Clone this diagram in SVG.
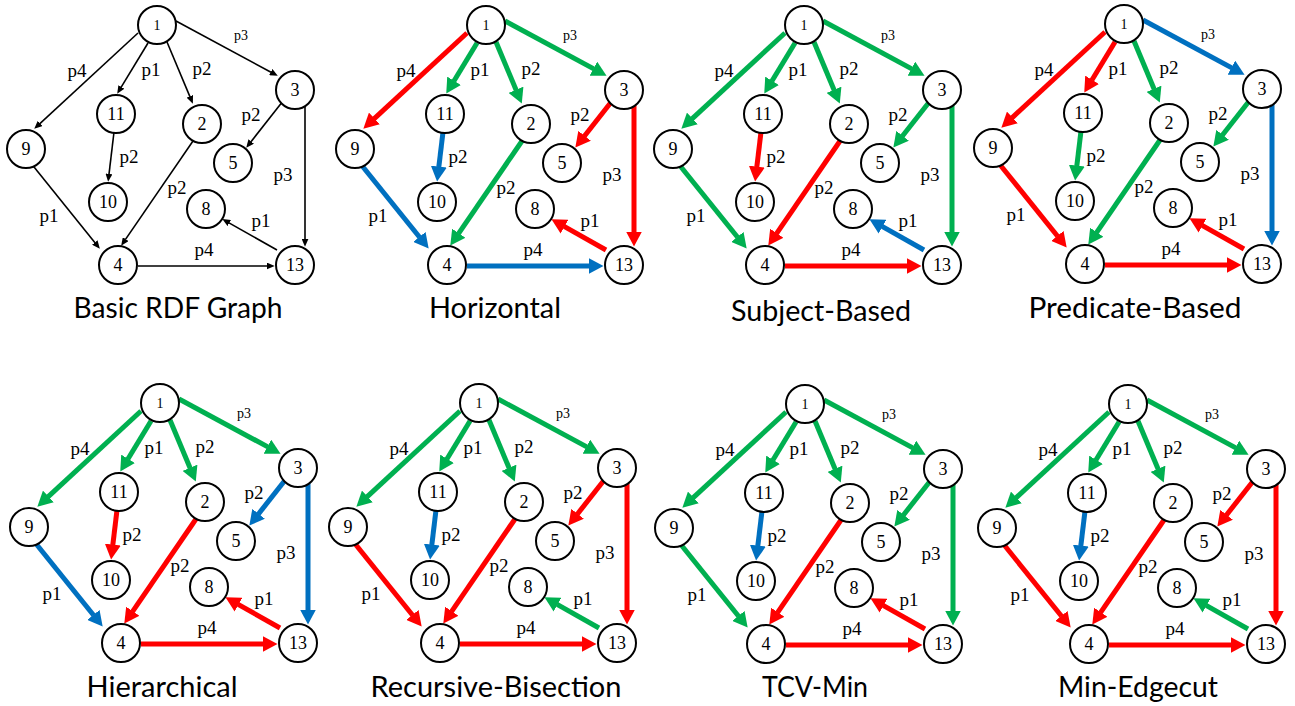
<svg xmlns="http://www.w3.org/2000/svg" width="1295" height="706" viewBox="0 0 1295 706">
<style>
.node circle{fill:#fff;stroke:#000;stroke-width:2}
.node text{font-family:"Liberation Serif","DejaVu Serif",serif;font-size:18px;text-anchor:middle;fill:#000}
.node text.s{font-size:14px}
.lbl text{font-family:"Liberation Serif","DejaVu Serif",serif;font-size:19px;text-anchor:middle;fill:#000}
.lbl text.s{font-size:14px}
.cap{font-family:Lato,"Open Sans",sans-serif;font-size:28px;text-anchor:middle;fill:#000}
.edges path{fill:none}
.k{stroke:#000;stroke-width:1.6;marker-end:url(#mk)}
.r{stroke:#ff0000;stroke-width:5;marker-end:url(#mr)}
.g{stroke:#00b050;stroke-width:5;marker-end:url(#mg)}
.b{stroke:#0070c0;stroke-width:5;marker-end:url(#mb)}
</style>
<defs>
<marker id="mk" markerUnits="userSpaceOnUse" markerWidth="8" markerHeight="7" viewBox="0 0 8 7" refX="0.3" refY="3.5" orient="auto"><path d="M0,0L8,3.5L0,7z" fill="#000"/></marker>
<marker id="mr" markerUnits="userSpaceOnUse" markerWidth="15" markerHeight="16" viewBox="0 0 15 16" refX="0.5" refY="8" orient="auto"><path d="M0,0L15,8L0,16z" fill="#ff0000"/></marker>
<marker id="mg" markerUnits="userSpaceOnUse" markerWidth="15" markerHeight="16" viewBox="0 0 15 16" refX="0.5" refY="8" orient="auto"><path d="M0,0L15,8L0,16z" fill="#00b050"/></marker>
<marker id="mb" markerUnits="userSpaceOnUse" markerWidth="15" markerHeight="16" viewBox="0 0 15 16" refX="0.5" refY="8" orient="auto"><path d="M0,0L15,8L0,16z" fill="#0070c0"/></marker>
</defs>
<rect width="1295" height="706" fill="#fff"/>

<!-- Basic RDF Graph -->
<g id="basic" transform="translate(157,25)">
<g id="basic-edges" class="edges">
<path class="k" d="M19,-4L114,47.2"/>
<path class="k" d="M-19,8L-117.1,98.6"/>
<path class="k" d="M-9,18L-35.8,62.2"/>
<path class="k" d="M10,17L32.9,71.6"/>
<path class="k" d="M126,76L94,116.7"/>
<path class="k" d="M148,78L148,214"/>
<path class="k" d="M-43,107L-48,149.1"/>
<path class="k" d="M36,116L-31.5,214.4"/>
<path class="k" d="M-127,137L-62,217.8"/>
<path class="k" d="M120,225L72,197.9"/>
<path class="k" d="M-19,241L110,241"/>
</g>
<g id="basic-labels" class="lbl">
<text class="s" x="84" y="15">p3</text><text x="-80" y="52">p4</text><text x="-6" y="51">p1</text><text x="45" y="50">p2</text>
<text x="94" y="96">p2</text><text x="-28" y="138">p2</text><text x="20" y="169">p2</text><text x="126" y="156">p3</text>
<text x="-108" y="197">p1</text><text x="104" y="202">p1</text><text x="47" y="231">p4</text>
</g>
<g id="basic-n1" class="node"><circle r="19"/><text class="s" y="5">1</text></g>
<g id="basic-n3" class="node" transform="translate(138,65)"><circle r="19"/><text y="6">3</text></g>
<g id="basic-n11" class="node" transform="translate(-41,89)"><circle r="19"/><text y="6">11</text></g>
<g id="basic-n2" class="node" transform="translate(45,99)"><circle r="19"/><text y="6">2</text></g>
<g id="basic-n9" class="node" transform="translate(-131,124)"><circle r="19"/><text y="6">9</text></g>
<g id="basic-n5" class="node" transform="translate(76,138)"><circle r="19"/><text y="6">5</text></g>
<g id="basic-n10" class="node" transform="translate(-49,177)"><circle r="19"/><text y="6">10</text></g>
<g id="basic-n8" class="node" transform="translate(49,184)"><circle r="19"/><text y="6">8</text></g>
<g id="basic-n4" class="node" transform="translate(-39,240)"><circle r="19"/><text y="6">4</text></g>
<g id="basic-n13" class="node" transform="translate(138,240)"><circle r="19"/><text y="6">13</text></g>
</g>
<text class="cap" x="178" y="318" textLength="209" lengthAdjust="spacingAndGlyphs">Basic RDF Graph</text>

<!-- Horizontal -->
<g id="horizontal" transform="translate(486,25)">
<g id="horizontal-edges" class="edges">
<path class="g" d="M19,-4L107.8,43.9"/>
<path class="r" d="M-19,8L-112,93.8"/>
<path class="g" d="M-9,18L-32.2,56.2"/>
<path class="g" d="M10,17L30.2,65.2"/>
<path class="r" d="M126,76L98.3,111.2"/>
<path class="r" d="M148,78L148,207"/>
<path class="b" d="M-43,107L-47.2,142.1"/>
<path class="g" d="M36,116L-27.5,208.6"/>
<path class="b" d="M-127,137L-66.4,212.3"/>
<path class="r" d="M120,225L78.1,201.4"/>
<path class="b" d="M-19,241L103,241"/>
</g>
<g id="horizontal-labels" class="lbl">
<text class="s" x="84" y="15">p3</text><text x="-80" y="52">p4</text><text x="-6" y="51">p1</text><text x="45" y="50">p2</text>
<text x="94" y="96">p2</text><text x="-28" y="138">p2</text><text x="20" y="169">p2</text><text x="126" y="156">p3</text>
<text x="-108" y="197">p1</text><text x="104" y="202">p1</text><text x="47" y="231">p4</text>
</g>
<g id="horizontal-n1" class="node"><circle r="19"/><text class="s" y="5">1</text></g>
<g id="horizontal-n3" class="node" transform="translate(138,65)"><circle r="19"/><text y="6">3</text></g>
<g id="horizontal-n11" class="node" transform="translate(-41,89)"><circle r="19"/><text y="6">11</text></g>
<g id="horizontal-n2" class="node" transform="translate(45,99)"><circle r="19"/><text y="6">2</text></g>
<g id="horizontal-n9" class="node" transform="translate(-131,124)"><circle r="19"/><text y="6">9</text></g>
<g id="horizontal-n5" class="node" transform="translate(76,138)"><circle r="19"/><text y="6">5</text></g>
<g id="horizontal-n10" class="node" transform="translate(-49,177)"><circle r="19"/><text y="6">10</text></g>
<g id="horizontal-n8" class="node" transform="translate(49,184)"><circle r="19"/><text y="6">8</text></g>
<g id="horizontal-n4" class="node" transform="translate(-39,240)"><circle r="19"/><text y="6">4</text></g>
<g id="horizontal-n13" class="node" transform="translate(138,240)"><circle r="19"/><text y="6">13</text></g>
</g>
<text class="cap" x="495" y="318" textLength="132" lengthAdjust="spacingAndGlyphs">Horizontal</text>

<!-- Subject-Based -->
<g id="subject" transform="translate(804,25)">
<g id="subject-edges" class="edges">
<path class="g" d="M19,-4L107.8,43.9"/>
<path class="g" d="M-19,8L-112,93.8"/>
<path class="g" d="M-9,18L-32.2,56.2"/>
<path class="g" d="M10,17L30.2,65.2"/>
<path class="g" d="M126,76L98.3,111.2"/>
<path class="g" d="M148,78L148,207"/>
<path class="r" d="M-43,107L-47.2,142.1"/>
<path class="r" d="M36,116L-27.5,208.6"/>
<path class="g" d="M-127,137L-66.4,212.3"/>
<path class="b" d="M120,225L78.1,201.4"/>
<path class="r" d="M-19,241L103,241"/>
</g>
<g id="subject-labels" class="lbl">
<text class="s" x="84" y="15">p3</text><text x="-80" y="52">p4</text><text x="-6" y="51">p1</text><text x="45" y="50">p2</text>
<text x="94" y="96">p2</text><text x="-28" y="138">p2</text><text x="20" y="169">p2</text><text x="126" y="156">p3</text>
<text x="-108" y="197">p1</text><text x="104" y="202">p1</text><text x="47" y="231">p4</text>
</g>
<g id="subject-n1" class="node"><circle r="19"/><text class="s" y="5">1</text></g>
<g id="subject-n3" class="node" transform="translate(138,65)"><circle r="19"/><text y="6">3</text></g>
<g id="subject-n11" class="node" transform="translate(-41,89)"><circle r="19"/><text y="6">11</text></g>
<g id="subject-n2" class="node" transform="translate(45,99)"><circle r="19"/><text y="6">2</text></g>
<g id="subject-n9" class="node" transform="translate(-131,124)"><circle r="19"/><text y="6">9</text></g>
<g id="subject-n5" class="node" transform="translate(76,138)"><circle r="19"/><text y="6">5</text></g>
<g id="subject-n10" class="node" transform="translate(-49,177)"><circle r="19"/><text y="6">10</text></g>
<g id="subject-n8" class="node" transform="translate(49,184)"><circle r="19"/><text y="6">8</text></g>
<g id="subject-n4" class="node" transform="translate(-39,240)"><circle r="19"/><text y="6">4</text></g>
<g id="subject-n13" class="node" transform="translate(138,240)"><circle r="19"/><text y="6">13</text></g>
</g>
<text class="cap" x="821" y="321" textLength="180" lengthAdjust="spacingAndGlyphs">Subject-Based</text>

<!-- Predicate-Based -->
<g id="predicate" transform="translate(1124,24)">
<g id="predicate-edges" class="edges">
<path class="b" d="M19,-4L107.8,43.9"/>
<path class="r" d="M-19,8L-112,93.8"/>
<path class="r" d="M-9,18L-32.2,56.2"/>
<path class="g" d="M10,17L30.2,65.2"/>
<path class="g" d="M126,76L98.3,111.2"/>
<path class="b" d="M148,78L148,207"/>
<path class="g" d="M-43,107L-47.2,142.1"/>
<path class="g" d="M36,116L-27.5,208.6"/>
<path class="r" d="M-127,137L-66.4,212.3"/>
<path class="r" d="M120,225L78.1,201.4"/>
<path class="r" d="M-19,241L103,241"/>
</g>
<g id="predicate-labels" class="lbl">
<text class="s" x="84" y="15">p3</text><text x="-80" y="52">p4</text><text x="-6" y="51">p1</text><text x="45" y="50">p2</text>
<text x="94" y="96">p2</text><text x="-28" y="138">p2</text><text x="20" y="169">p2</text><text x="126" y="156">p3</text>
<text x="-108" y="197">p1</text><text x="104" y="202">p1</text><text x="47" y="231">p4</text>
</g>
<g id="predicate-n1" class="node"><circle r="19"/><text class="s" y="5">1</text></g>
<g id="predicate-n3" class="node" transform="translate(138,65)"><circle r="19"/><text y="6">3</text></g>
<g id="predicate-n11" class="node" transform="translate(-41,89)"><circle r="19"/><text y="6">11</text></g>
<g id="predicate-n2" class="node" transform="translate(45,99)"><circle r="19"/><text y="6">2</text></g>
<g id="predicate-n9" class="node" transform="translate(-131,124)"><circle r="19"/><text y="6">9</text></g>
<g id="predicate-n5" class="node" transform="translate(76,138)"><circle r="19"/><text y="6">5</text></g>
<g id="predicate-n10" class="node" transform="translate(-49,177)"><circle r="19"/><text y="6">10</text></g>
<g id="predicate-n8" class="node" transform="translate(49,184)"><circle r="19"/><text y="6">8</text></g>
<g id="predicate-n4" class="node" transform="translate(-39,240)"><circle r="19"/><text y="6">4</text></g>
<g id="predicate-n13" class="node" transform="translate(138,240)"><circle r="19"/><text y="6">13</text></g>
</g>
<text class="cap" x="1135" y="318" textLength="213" lengthAdjust="spacingAndGlyphs">Predicate-Based</text>

<!-- Hierarchical -->
<g id="hierarchical" transform="translate(160,403)">
<g id="hierarchical-edges" class="edges">
<path class="g" d="M19,-4L107.8,43.9"/>
<path class="g" d="M-19,8L-112,93.8"/>
<path class="g" d="M-9,18L-32.2,56.2"/>
<path class="g" d="M10,17L30.2,65.2"/>
<path class="b" d="M126,76L98.3,111.2"/>
<path class="b" d="M148,78L148,207"/>
<path class="r" d="M-43,107L-47.2,142.1"/>
<path class="r" d="M36,116L-27.5,208.6"/>
<path class="b" d="M-127,137L-66.4,212.3"/>
<path class="r" d="M120,225L78.1,201.4"/>
<path class="r" d="M-19,241L103,241"/>
</g>
<g id="hierarchical-labels" class="lbl">
<text class="s" x="84" y="15">p3</text><text x="-80" y="52">p4</text><text x="-6" y="51">p1</text><text x="45" y="50">p2</text>
<text x="94" y="96">p2</text><text x="-28" y="138">p2</text><text x="20" y="169">p2</text><text x="126" y="156">p3</text>
<text x="-108" y="197">p1</text><text x="104" y="202">p1</text><text x="47" y="231">p4</text>
</g>
<g id="hierarchical-n1" class="node"><circle r="19"/><text class="s" y="5">1</text></g>
<g id="hierarchical-n3" class="node" transform="translate(138,65)"><circle r="19"/><text y="6">3</text></g>
<g id="hierarchical-n11" class="node" transform="translate(-41,89)"><circle r="19"/><text y="6">11</text></g>
<g id="hierarchical-n2" class="node" transform="translate(45,99)"><circle r="19"/><text y="6">2</text></g>
<g id="hierarchical-n9" class="node" transform="translate(-131,124)"><circle r="19"/><text y="6">9</text></g>
<g id="hierarchical-n5" class="node" transform="translate(76,138)"><circle r="19"/><text y="6">5</text></g>
<g id="hierarchical-n10" class="node" transform="translate(-49,177)"><circle r="19"/><text y="6">10</text></g>
<g id="hierarchical-n8" class="node" transform="translate(49,184)"><circle r="19"/><text y="6">8</text></g>
<g id="hierarchical-n4" class="node" transform="translate(-39,240)"><circle r="19"/><text y="6">4</text></g>
<g id="hierarchical-n13" class="node" transform="translate(138,240)"><circle r="19"/><text y="6">13</text></g>
</g>
<text class="cap" x="162" y="697" textLength="151" lengthAdjust="spacingAndGlyphs">Hierarchical</text>

<!-- Recursive-Bisection -->
<g id="bisection" transform="translate(479,403)">
<g id="bisection-edges" class="edges">
<path class="g" d="M19,-4L107.8,43.9"/>
<path class="g" d="M-19,8L-112,93.8"/>
<path class="g" d="M-9,18L-32.2,56.2"/>
<path class="g" d="M10,17L30.2,65.2"/>
<path class="r" d="M126,76L98.3,111.2"/>
<path class="r" d="M148,78L148,207"/>
<path class="b" d="M-43,107L-47.2,142.1"/>
<path class="r" d="M36,116L-27.5,208.6"/>
<path class="r" d="M-127,137L-66.4,212.3"/>
<path class="g" d="M120,225L78.1,201.4"/>
<path class="r" d="M-19,241L103,241"/>
</g>
<g id="bisection-labels" class="lbl">
<text class="s" x="84" y="15">p3</text><text x="-80" y="52">p4</text><text x="-6" y="51">p1</text><text x="45" y="50">p2</text>
<text x="94" y="96">p2</text><text x="-28" y="138">p2</text><text x="20" y="169">p2</text><text x="126" y="156">p3</text>
<text x="-108" y="197">p1</text><text x="104" y="202">p1</text><text x="47" y="231">p4</text>
</g>
<g id="bisection-n1" class="node"><circle r="19"/><text class="s" y="5">1</text></g>
<g id="bisection-n3" class="node" transform="translate(138,65)"><circle r="19"/><text y="6">3</text></g>
<g id="bisection-n11" class="node" transform="translate(-41,89)"><circle r="19"/><text y="6">11</text></g>
<g id="bisection-n2" class="node" transform="translate(45,99)"><circle r="19"/><text y="6">2</text></g>
<g id="bisection-n9" class="node" transform="translate(-131,124)"><circle r="19"/><text y="6">9</text></g>
<g id="bisection-n5" class="node" transform="translate(76,138)"><circle r="19"/><text y="6">5</text></g>
<g id="bisection-n10" class="node" transform="translate(-49,177)"><circle r="19"/><text y="6">10</text></g>
<g id="bisection-n8" class="node" transform="translate(49,184)"><circle r="19"/><text y="6">8</text></g>
<g id="bisection-n4" class="node" transform="translate(-39,240)"><circle r="19"/><text y="6">4</text></g>
<g id="bisection-n13" class="node" transform="translate(138,240)"><circle r="19"/><text y="6">13</text></g>
</g>
<text class="cap" x="496" y="697" textLength="251" lengthAdjust="spacingAndGlyphs">Recursive-Bisection</text>

<!-- TCV-Min -->
<g id="tcvmin" transform="translate(805,404)">
<g id="tcvmin-edges" class="edges">
<path class="g" d="M19,-4L107.8,43.9"/>
<path class="g" d="M-19,8L-112,93.8"/>
<path class="g" d="M-9,18L-32.2,56.2"/>
<path class="g" d="M10,17L30.2,65.2"/>
<path class="g" d="M126,76L98.3,111.2"/>
<path class="g" d="M148,78L148,207"/>
<path class="b" d="M-43,107L-47.2,142.1"/>
<path class="r" d="M36,116L-27.5,208.6"/>
<path class="g" d="M-127,137L-66.4,212.3"/>
<path class="r" d="M120,225L78.1,201.4"/>
<path class="r" d="M-19,241L103,241"/>
</g>
<g id="tcvmin-labels" class="lbl">
<text class="s" x="84" y="15">p3</text><text x="-80" y="52">p4</text><text x="-6" y="51">p1</text><text x="45" y="50">p2</text>
<text x="94" y="96">p2</text><text x="-28" y="138">p2</text><text x="20" y="169">p2</text><text x="126" y="156">p3</text>
<text x="-108" y="197">p1</text><text x="104" y="202">p1</text><text x="47" y="231">p4</text>
</g>
<g id="tcvmin-n1" class="node"><circle r="19"/><text class="s" y="5">1</text></g>
<g id="tcvmin-n3" class="node" transform="translate(138,65)"><circle r="19"/><text y="6">3</text></g>
<g id="tcvmin-n11" class="node" transform="translate(-41,89)"><circle r="19"/><text y="6">11</text></g>
<g id="tcvmin-n2" class="node" transform="translate(45,99)"><circle r="19"/><text y="6">2</text></g>
<g id="tcvmin-n9" class="node" transform="translate(-131,124)"><circle r="19"/><text y="6">9</text></g>
<g id="tcvmin-n5" class="node" transform="translate(76,138)"><circle r="19"/><text y="6">5</text></g>
<g id="tcvmin-n10" class="node" transform="translate(-49,177)"><circle r="19"/><text y="6">10</text></g>
<g id="tcvmin-n8" class="node" transform="translate(49,184)"><circle r="19"/><text y="6">8</text></g>
<g id="tcvmin-n4" class="node" transform="translate(-39,240)"><circle r="19"/><text y="6">4</text></g>
<g id="tcvmin-n13" class="node" transform="translate(138,240)"><circle r="19"/><text y="6">13</text></g>
</g>
<text class="cap" x="815" y="697" textLength="106" lengthAdjust="spacingAndGlyphs">TCV-Min</text>

<!-- Min-Edgecut -->
<g id="edgecut" transform="translate(1128,404)">
<g id="edgecut-edges" class="edges">
<path class="g" d="M19,-4L107.8,43.9"/>
<path class="g" d="M-19,8L-112,93.8"/>
<path class="g" d="M-9,18L-32.2,56.2"/>
<path class="g" d="M10,17L30.2,65.2"/>
<path class="r" d="M126,76L98.3,111.2"/>
<path class="r" d="M148,78L148,207"/>
<path class="b" d="M-43,107L-47.2,142.1"/>
<path class="r" d="M36,116L-27.5,208.6"/>
<path class="r" d="M-127,137L-66.4,212.3"/>
<path class="g" d="M120,225L78.1,201.4"/>
<path class="r" d="M-19,241L103,241"/>
</g>
<g id="edgecut-labels" class="lbl">
<text class="s" x="84" y="15">p3</text><text x="-80" y="52">p4</text><text x="-6" y="51">p1</text><text x="45" y="50">p2</text>
<text x="94" y="96">p2</text><text x="-28" y="138">p2</text><text x="20" y="169">p2</text><text x="126" y="156">p3</text>
<text x="-108" y="197">p1</text><text x="104" y="202">p1</text><text x="47" y="231">p4</text>
</g>
<g id="edgecut-n1" class="node"><circle r="19"/><text class="s" y="5">1</text></g>
<g id="edgecut-n3" class="node" transform="translate(138,65)"><circle r="19"/><text y="6">3</text></g>
<g id="edgecut-n11" class="node" transform="translate(-41,89)"><circle r="19"/><text y="6">11</text></g>
<g id="edgecut-n2" class="node" transform="translate(45,99)"><circle r="19"/><text y="6">2</text></g>
<g id="edgecut-n9" class="node" transform="translate(-131,124)"><circle r="19"/><text y="6">9</text></g>
<g id="edgecut-n5" class="node" transform="translate(76,138)"><circle r="19"/><text y="6">5</text></g>
<g id="edgecut-n10" class="node" transform="translate(-49,177)"><circle r="19"/><text y="6">10</text></g>
<g id="edgecut-n8" class="node" transform="translate(49,184)"><circle r="19"/><text y="6">8</text></g>
<g id="edgecut-n4" class="node" transform="translate(-39,240)"><circle r="19"/><text y="6">4</text></g>
<g id="edgecut-n13" class="node" transform="translate(138,240)"><circle r="19"/><text y="6">13</text></g>
</g>
<text class="cap" x="1138" y="697" textLength="160" lengthAdjust="spacingAndGlyphs">Min-Edgecut</text>
</svg>
